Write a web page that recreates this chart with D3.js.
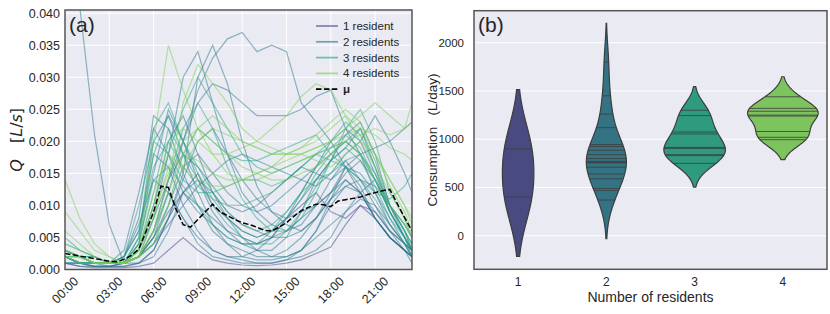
<!DOCTYPE html>
<html>
<head>
<meta charset="utf-8">
<script src="https://cdn.jsdelivr.net/npm/d3@7"></script>
<style>
  body { margin: 0; background: #fff; }
  svg { display: block; }
  text { font-family: "Liberation Sans", Arial, sans-serif; fill: #262626; }
</style>
</head>
<body>
<svg id="chart" width="830" height="314"></svg>
<script>
'use strict';

// ---------- data (flows in mL/s, shown as L/s on the axis) ----------
var hours = [0,1,2,3,4,5,6,7,8,9,10,11,12,13,14,15,16,17,18,19,20,21,22,23,23.5];
var timeTicks = [0,3,6,9,12,15,18,21];
var timeTickLabels = ['00:00','03:00','06:00','09:00','12:00','15:00','18:00','21:00'];
var flowTicks = [0,5,10,15,20,25,30,35,40];

var meanHours = [0,0.5,1,1.5,2,2.5,3,3.5,4,4.5,5,5.5,6,6.5,7,7.5,8,8.5,9,9.5,10,10.5,11,11.5,
                 12,12.5,13,13.5,14,14.5,15,15.5,16,16.5,17,17.5,18,18.5,19,19.5,20,20.5,21,21.5,22,22.5,23,23.5];
var meanFlow = [2.5,2.3,2.1,1.9,1.7,1.5,1.3,1.2,1.6,2.2,3.2,6.0,9.0,13.0,12.8,9.5,7.0,6.6,7.8,9.0,
                10.2,9.0,8.4,7.8,7.3,7.0,6.6,6.1,6.0,6.6,7.3,8.3,9.2,9.7,10.2,10.1,9.8,10.7,10.9,11.1,
                11.3,11.7,12.0,12.3,12.5,10.3,8.1,6.0];

var flow1 = [
  [1,0.5,0.3,0.3,0.3,0.5,1,3,5,3,1.5,1,0.7,0.6,0.7,1,1.5,2.5,3.5,7,10,8,5,3,2],
  [2,1,0.5,0.5,0.5,1,3,8,12,15,10,8,6,5,6,8,10,12,9,8,10,9,6,4,3]
];
var flow2 = [
  [62,41,21,7,1,1,2,6,12,10,8,6,5,4,5,6,8,10,12,14,12,8,5,3,2],
  [2,1,1,1,1,2,6,14,20,28,33,36,37,34,35,34,26,23,20,16,12,8,5,3,2],
  [2,1,1,1,1,2,4,8,15,30,35,29,20,13,9,7,6,8,12,16,13,8,5,3,2],
  [3,2,1,1,1,2,8,18,30,34,26,18,12,9,7,6,7,10,14,17,14,10,6,4,3],
  [2,1,1,1,1,2,5,12,20,26,29,28,26,24,24,24,25,27,28,22,18,14,9,5,3],
  [3,2,1,1,2,8,24,22,15,10,6,4,3,2,2,3,5,8,11,14,12,8,5,3,2],
  [2,1,1,1,3,12,22,18,12,9,7,5,4,4,5,8,12,16,18,20,18,12,7,4,3],
  [1,1,0.5,0.5,1,4,15,25,20,14,9,6,4,3,3,5,9,14,17,19,22,16,9,5,3],
  [2,1,1,1,1,3,10,20,24,18,12,8,5,3,2,2,3,6,11,16,15,12,8,4,2],
  [1,1,1,0.5,0.5,1,3,8,14,20,22,18,14,11,9,8,9,10,12,15,17,14,9,5,2],
  [2,1,1,1,2,6,18,16,10,6,3,2,1.5,1,1,1.5,3,6,10,13,12,9,6,3,1],
  [3,2,2,1,1,2,5,10,16,18,15,12,10,9,10,12,14,16,20,22,20,15,10,7,5],
  [1,0.5,0.5,0.5,1,2,6,12,8,4,2,1.5,1,1,1,1.5,2,3,5,9,11,10,7,4,2],
  [2,2,1,1,1,3,8,14,18,16,13,10,9,10,12,14,16,15,14,16,18,19,20,22,23],
  [2,1,1,1,1,2,4,7,10,13,15,17,18,17,16,15,14,13,15,18,20,24,20,15,12],
  [1,1,0.5,0.5,1,5,20,24,18,12,7,4,2,1.5,1.5,2,3,5,7,9,12,14,10,6,3],
  [3,2,1,1,1,2,5,9,12,14,12,9,7,6,5,5,6,8,11,13,14,13,10,6,4],
  [2,1,1,1,2,7,14,12,8,5,3,2,2,3,5,8,11,14,17,21,23,18,10,5,3]
];
var flow3 = [
  [3,2,1,1,1,4,18,24,20,16,12,9,7,6,7,9,12,16,19,21,19,14,9,5,3],
  [2,1,1,1,2,10,20,18,14,12,12,13,14,14,13,14,16,18,20,23,21,16,10,6,4],
  [4,3,2,1,1,3,10,18,25,30,26,22,18,16,15,16,17,18,19,20,18,14,10,7,5],
  [2,1,1,1,1,2,6,14,22,26,22,16,11,8,6,6,8,12,17,22,25,20,12,8,5],
  [3,2,1,1,1,3,12,22,18,14,10,7,5,4,4,6,9,13,17,19,17,13,8,5,3],
  [2,2,1,1,2,6,16,20,16,13,11,10,10,11,12,14,16,18,17,16,14,12,11,13,15],
  [3,2,2,1,1,2,4,10,18,22,20,18,17,17,18,19,20,21,18,16,14,11,7,4,2],
  [5,3,2,1,1,4,14,16,13,10,7,5,4,4,6,9,12,14,15,17,18,15,9,5,3],
  [2,1,1,1,1,5,22,26,20,15,11,8,6,5,6,8,11,15,18,20,22,17,10,6,3]
];
var flow4 = [
  [9,6,3,2,1,3,20,35,28,22,18,15,14,14,15,16,17,18,19,20,18,14,10,7,5],
  [14,8,4,2,1,2,8,16,20,22,24,22,20,19,18,18,19,20,22,24,22,18,14,10,8],
  [3,2,1,1,1,2,6,14,26,32,29,26,22,20,19,18,18,19,20,21,22,21,19,18,17],
  [2,2,1,1,1,3,10,20,22,20,18,18,19,20,22,24,27,29,28,24,20,16,12,8,5],
  [3,2,1,1,1,2,4,10,16,20,22,21,20,19,18,18,18,19,20,22,24,26,24,22,26],
  [6,4,2,1,1,3,12,18,16,14,13,13,14,15,16,17,18,17,16,18,20,18,14,10,7],
  [2,1,1,1,1,2,6,12,18,22,20,18,16,15,14,14,15,16,18,20,21,22,21,22,23],
  [4,3,2,1,1,3,9,15,18,17,15,14,14,15,16,18,19,21,23,25,23,18,13,9,6]
];
var residentLabels = ['1 resident', '2 residents', '3 residents', '4 residents'];

// daily consumption per household (L/day), by number of residents
var residentCats = ['1', '2', '3', '4'];
var daily1 = [900, 400];
var daily2 = [1800, 1450, 1260, 1120, 945, 925, 885, 840, 800, 770, 760, 755, 710, 640, 590, 490, 470, 370];
var daily3 = [1300, 1245, 1075, 1055, 915, 905, 840, 830, 750];
var daily4 = [1440, 1320, 1290, 1250, 1240, 1080, 1020, 995];
var consumptionTicks = [0, 500, 1000, 1500, 2000];

// ---------- setup ----------
var lineColors = ['#414487', '#2a788e', '#22a884', '#7ad151'];
var violinColors = ['#484a80', '#347384', '#2f9b7e', '#7ec45e'];
var bg = '#eaeaf2';
var frameColor = '#555555';
var violinGray = '#3d3d3d';

var svg = d3.select('#chart');

// ================= panel (a) =================
var A = { left: 65, right: 412, top: 10, bottom: 269.5 };
var xA = d3.scaleLinear().domain([0, 23.5]).range([A.left, A.right]);
var yA = d3.scaleLinear().domain([0, 40.5]).range([A.bottom, A.top]);

var gA = svg.append('g');
gA.append('rect')
  .attr('x', A.left).attr('y', A.top)
  .attr('width', A.right - A.left).attr('height', A.bottom - A.top)
  .attr('fill', bg);

svg.append('clipPath').attr('id', 'clipA')
  .append('rect')
  .attr('x', A.left).attr('y', A.top)
  .attr('width', A.right - A.left).attr('height', A.bottom - A.top);

// grid
gA.selectAll('.vgrid').data(timeTicks).enter().append('line')
  .attr('x1', function(d) { return xA(d); }).attr('x2', function(d) { return xA(d); })
  .attr('y1', A.top).attr('y2', A.bottom)
  .attr('stroke', '#fff').attr('stroke-width', 1);
gA.selectAll('.hgrid').data(flowTicks).enter().append('line')
  .attr('x1', A.left).attr('x2', A.right)
  .attr('y1', function(d) { return yA(d); }).attr('y2', function(d) { return yA(d); })
  .attr('stroke', '#fff').attr('stroke-width', 1);

// household lines
var lineA = d3.line()
  .x(function(d, i) { return xA(hours[i]); })
  .y(function(d) { return yA(d); });

var lines = gA.append('g').attr('clip-path', 'url(#clipA)');
[flow1, flow2, flow3, flow4].forEach(function(group, gi) {
  lines.selectAll(null).data(group).enter().append('path')
    .attr('d', lineA)
    .attr('fill', 'none')
    .attr('stroke', lineColors[gi])
    .attr('stroke-width', 1.2)
    .attr('stroke-opacity', 0.5);
});

// mean line
var meanLine = d3.line()
  .x(function(d, i) { return xA(meanHours[i]); })
  .y(function(d) { return yA(d); });
lines.append('path')
  .attr('d', meanLine(meanFlow))
  .attr('fill', 'none')
  .attr('stroke', '#000')
  .attr('stroke-width', 1.5)
  .attr('stroke-dasharray', '5.5,2.4');

// frame
gA.append('rect')
  .attr('x', A.left).attr('y', A.top)
  .attr('width', A.right - A.left).attr('height', A.bottom - A.top)
  .attr('fill', 'none').attr('stroke', frameColor).attr('stroke-width', 1.5);

// y ticks
gA.selectAll('.ytick').data(flowTicks).enter().append('text')
  .attr('x', 60).attr('y', function(d) { return yA(d); })
  .attr('dy', '0.35em')
  .attr('text-anchor', 'end')
  .style('font-size', '12.5px')
  .text(function(d) { return (d / 1000).toFixed(3); });

// x ticks (rotated)
gA.selectAll('.xtick').data(timeTicks).enter().append('text')
  .attr('transform', function(d) { return 'translate(' + xA(d) + ',290) rotate(-45)'; })
  .attr('dy', '0.35em')
  .attr('text-anchor', 'middle')
  .style('font-size', '12.5px')
  .text(function(d, i) { return timeTickLabels[i]; });

// y label
var yLab = gA.append('text')
  .attr('transform', 'translate(22,' + ((A.top + A.bottom) / 2) + ') rotate(-90)')
  .attr('text-anchor', 'middle')
  .style('font-family', '"DejaVu Sans", sans-serif')
  .style('font-size', '16px');
yLab.append('tspan').style('font-style', 'italic').text('Q');
yLab.append('tspan').attr('xml:space', 'preserve').text('\u2002\u2002[');
yLab.append('tspan').style('font-style', 'italic').text('L');
yLab.append('tspan').text('/');
yLab.append('tspan').style('font-style', 'italic').text('s');
yLab.append('tspan').text(']');

gA.append('text')
  .attr('x', 69).attr('y', 32)
  .style('font-size', '21px')
  .text('(a)');

// legend
var legend = gA.append('g');
var legItems = residentLabels.map(function(l, i) { return { label: l, color: lineColors[i], dash: null, op: 0.65 }; });
legItems.push({ label: '\u03bc', color: '#000', dash: '5.5,2.4', op: 1, bold: true });
legItems.forEach(function(it, i) {
  var ly = 26 + i * 15.8;
  legend.append('line')
    .attr('x1', 316).attr('x2', 338).attr('y1', ly).attr('y2', ly)
    .attr('stroke', it.color).attr('stroke-opacity', it.op)
    .attr('stroke-width', 1.7)
    .attr('stroke-dasharray', it.dash);
  legend.append('text')
    .attr('x', 343).attr('y', ly).attr('dy', '0.35em')
    .style('font-size', '11.5px')
    .style('font-weight', it.bold ? 'bold' : null)
    .text(it.label);
});

// ================= panel (b) =================
var B = { left: 474, right: 827, top: 10.7, bottom: 269.3 };
var xB = d3.scaleLinear().domain([-0.5, 3.5]).range([B.left, B.right]);
var yB = d3.scaleLinear().domain([-348, 2332]).range([B.bottom, B.top]);

var gB = svg.append('g');
gB.append('rect')
  .attr('x', B.left).attr('y', B.top)
  .attr('width', B.right - B.left).attr('height', B.bottom - B.top)
  .attr('fill', bg);

gB.selectAll('.hgrid').data(consumptionTicks).enter().append('line')
  .attr('x1', B.left).attr('x2', B.right)
  .attr('y1', function(d) { return yB(d); }).attr('y2', function(d) { return yB(d); })
  .attr('stroke', '#fff').attr('stroke-width', 1);

// gaussian KDE (Scott's rule, cut = 2), like seaborn's violinplot
function kde(vals) {
  var n = vals.length;
  var bw = d3.deviation(vals) * Math.pow(n, -0.2);
  var f = function(y) {
    return d3.mean(vals, function(v) {
      var z = (y - v) / bw;
      return Math.exp(-0.5 * z * z);
    }) / (bw * Math.sqrt(2 * Math.PI));
  };
  var lo = d3.min(vals) - 2 * bw, hi = d3.max(vals) + 2 * bw;
  var grid = d3.range(100).map(function(i) { return lo + (hi - lo) * i / 99; });
  return { f: f, pts: grid.map(function(y) { return [y, f(y)]; }) };
}

var dailyGroups = [daily1, daily2, daily3, daily4];
var groups = dailyGroups.map(kde);
var maxDens = d3.max(groups, function(g) { return d3.max(g.pts, function(p) { return p[1]; }); });
var halfW = d3.scaleLinear().domain([0, maxDens]).range([0, 0.4]);

groups.forEach(function(g, i) {
  var area = d3.area()
    .y(function(p) { return yB(p[0]); })
    .x0(function(p) { return xB(i - halfW(p[1])); })
    .x1(function(p) { return xB(i + halfW(p[1])); });
  gB.append('path')
    .attr('d', area(g.pts))
    .attr('fill', violinColors[i]);
  // one stick per household
  gB.selectAll(null).data(dailyGroups[i]).enter().append('line')
    .attr('x1', function(v) { return xB(i - halfW(g.f(v))); })
    .attr('x2', function(v) { return xB(i + halfW(g.f(v))); })
    .attr('y1', function(v) { return yB(v); })
    .attr('y2', function(v) { return yB(v); })
    .attr('stroke', violinGray).attr('stroke-width', 0.9).attr('stroke-opacity', 0.9);
  gB.append('path')
    .attr('d', area(g.pts) + 'Z')
    .attr('fill', 'none')
    .attr('stroke', violinGray)
    .attr('stroke-width', 1.2);
});

gB.append('rect')
  .attr('x', B.left).attr('y', B.top)
  .attr('width', B.right - B.left).attr('height', B.bottom - B.top)
  .attr('fill', 'none').attr('stroke', frameColor).attr('stroke-width', 1.5);

gB.selectAll('.ytick').data(consumptionTicks).enter().append('text')
  .attr('x', 464).attr('y', function(d) { return yB(d); })
  .attr('dy', '0.35em').attr('text-anchor', 'end')
  .style('font-size', '11.5px')
  .text(function(d) { return d; });

gB.selectAll('.xtick').data(residentCats).enter().append('text')
  .attr('x', function(d, i) { return xB(i); }).attr('y', 282)
  .attr('dy', '0.35em').attr('text-anchor', 'middle')
  .style('font-size', '12px')
  .text(function(d) { return d; });

gB.append('text')
  .attr('x', xB(1.5)).attr('y', 297).attr('dy', '0.35em')
  .attr('text-anchor', 'middle')
  .style('font-size', '14px')
  .text('Number of residents');

gB.append('text')
  .attr('transform', 'translate(432,' + ((B.top + B.bottom) / 2) + ') rotate(-90)')
  .attr('dy', '0.35em')
  .attr('text-anchor', 'middle')
  .attr('xml:space', 'preserve')
  .style('font-size', '13.5px')
  .text('Consumption   (L/day)');

gB.append('text')
  .attr('x', 478).attr('y', 32)
  .style('font-size', '21px')
  .text('(b)');
</script>
</body>
</html>
